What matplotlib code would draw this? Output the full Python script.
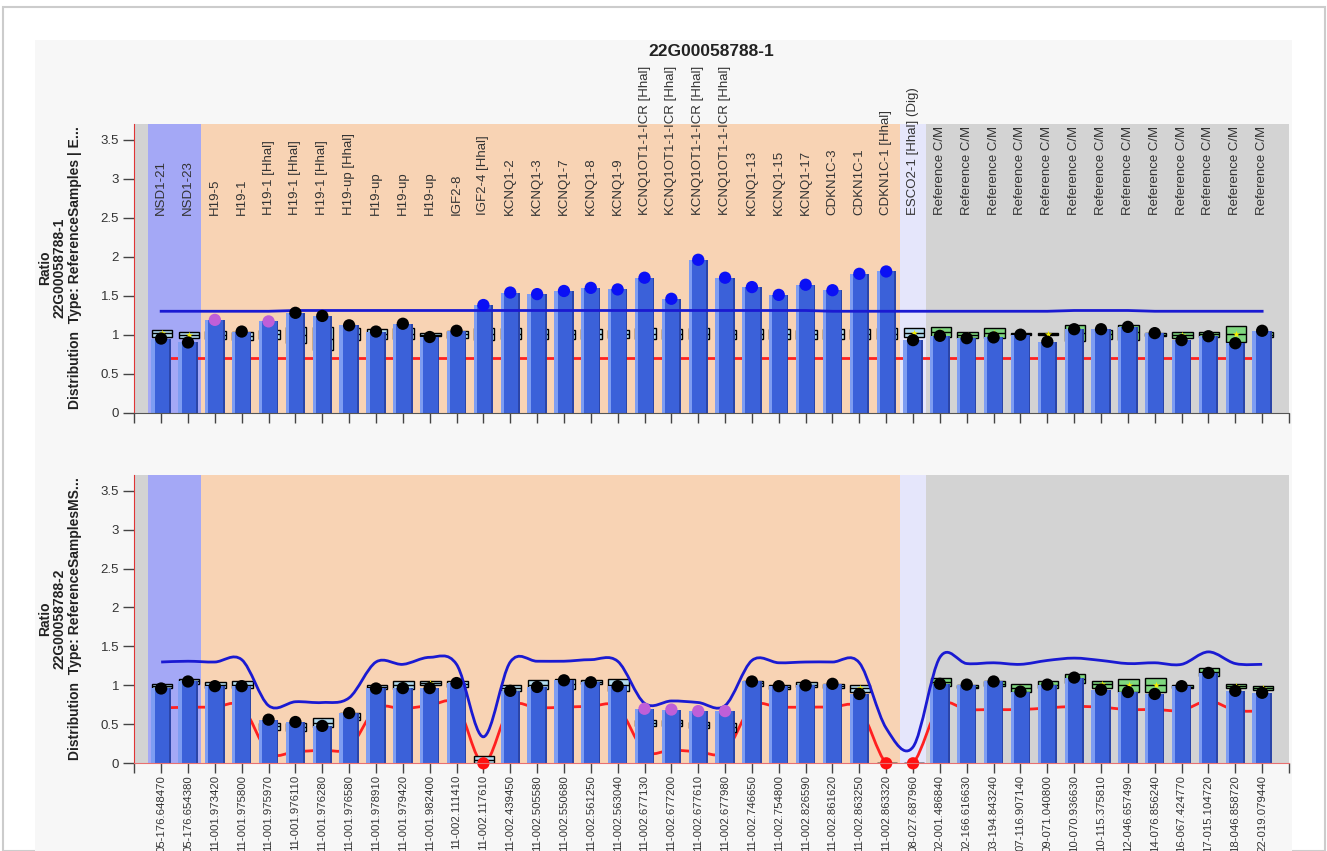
import numpy as np
import matplotlib
matplotlib.use("Agg")
import matplotlib.pyplot as plt
from matplotlib.patches import Rectangle, PathPatch
from matplotlib.path import Path

plt.rcParams["font.family"] = ["Liberation Sans", "DejaVu Sans"]

SAMPLE = "22G00058788"

probe_names = [
    "NSD1-21", "NSD1-23", "H19-5", "H19-1", "H19-1 [Hhal]", "H19-1 [Hhal]", "H19-1 [Hhal]",
    "H19-up [Hhal]", "H19-up", "H19-up", "H19-up", "IGF2-8", "IGF2-4 [Hhal]",
    "KCNQ1-2", "KCNQ1-3", "KCNQ1-7", "KCNQ1-8", "KCNQ1-9",
    "KCNQ1OT1-1-ICR [Hhal]", "KCNQ1OT1-1-ICR [Hhal]", "KCNQ1OT1-1-ICR [Hhal]", "KCNQ1OT1-1-ICR [Hhal]",
    "KCNQ1-13", "KCNQ1-15", "KCNQ1-17", "CDKN1C-3", "CDKN1C-1", "CDKN1C-1 [Hhal]",
    "ESCO2-1 [Hhal] (Dig)",
    "Reference C/M", "Reference C/M", "Reference C/M", "Reference C/M", "Reference C/M",
    "Reference C/M", "Reference C/M", "Reference C/M", "Reference C/M", "Reference C/M",
    "Reference C/M", "Reference C/M", "Reference C/M",
]

positions = [
    "05-176.648470", "05-176.654380", "11-001.973420", "11-001.975800", "11-001.975970",
    "11-001.976110", "11-001.976280", "11-001.976580", "11-001.978910", "11-001.979420",
    "11-001.982400", "11-002.111410", "11-002.117610", "11-002.439450", "11-002.505580",
    "11-002.550680", "11-002.561250", "11-002.563040", "11-002.677130", "11-002.677200",
    "11-002.677610", "11-002.677980", "11-002.746650", "11-002.754800", "11-002.826590",
    "11-002.861620", "11-002.863250", "11-002.863320", "08-027.687960", "02-001.486840",
    "02-166.616630", "03-194.843240", "07-116.907140", "09-071.040800", "10-070.936630",
    "10-115.375810", "12-046.657490", "14-076.856240", "16-067.424770", "17-015.104720",
    "18-046.858720", "22-019.079440",
]

# ratios, sample 1 (methylation-specific digest)
ratio_1 = [0.95, 0.90, 1.19, 1.04, 1.17, 1.28, 1.24, 1.12, 1.04, 1.14, 0.97, 1.05, 1.38,
           1.54, 1.52, 1.56, 1.60, 1.58, 1.73, 1.46, 1.96, 1.73, 1.61, 1.51, 1.64, 1.57,
           1.78, 1.81, 0.93, 0.985, 0.955, 0.965, 1.00, 0.91, 1.07, 1.07, 1.10, 1.02,
           0.93, 0.98, 0.89, 1.05]
box_lo_1 = [0.975, 0.96, 0.95, 0.93, 0.95, 0.89, 0.80, 0.93, 0.95, 0.95, 0.98, 0.96, 0.93,
            0.94, 0.94, 0.95, 0.95, 0.96, 0.94, 0.95, 0.94, 0.95, 0.95, 0.94, 0.95, 0.95,
            0.95, 0.94, 0.975, 0.97, 0.96, 0.96, 0.99, 0.99, 0.92, 0.95, 0.93, 0.98,
            0.96, 0.97, 0.91, 0.97]
box_hi_1 = [1.06, 1.03, 1.05, 1.04, 1.06, 1.10, 1.10, 1.08, 1.07, 1.08, 1.02, 1.05, 1.08,
            1.08, 1.07, 1.06, 1.07, 1.06, 1.08, 1.07, 1.08, 1.06, 1.07, 1.07, 1.06, 1.07,
            1.07, 1.08, 1.08, 1.10, 1.04, 1.08, 1.02, 1.02, 1.13, 1.06, 1.13, 1.02,
            1.04, 1.04, 1.11, 1.03]
upper_1 = [1.30, 1.30, 1.30, 1.30, 1.30, 1.31, 1.31, 1.31, 1.31, 1.31, 1.31, 1.31, 1.31,
           1.31, 1.31, 1.31, 1.31, 1.31, 1.31, 1.31, 1.31, 1.31, 1.31, 1.31, 1.31, 1.30,
           1.30, 1.30, 1.30, 1.30, 1.30, 1.30, 1.30, 1.30, 1.31, 1.31, 1.31, 1.30,
           1.30, 1.30, 1.30, 1.30]
lower_1 = [0.70] * 42

# ratios, sample 2 (MS-MLPA reference)
ratio_2 = [0.96, 1.05, 0.99, 0.99, 0.56, 0.53, 0.48, 0.645, 0.96, 0.965, 0.965, 1.03, 0.0,
           0.93, 0.98, 1.065, 1.04, 0.99, 0.70, 0.69, 0.67, 0.67, 1.05, 0.99, 1.00, 1.02,
           0.89, 0.0, 0.0, 1.02, 1.01, 1.05, 0.92, 1.01, 1.10, 0.945, 0.915, 0.89,
           0.99, 1.16, 0.93, 0.905]
box_lo_2 = [0.96, 1.02, 0.96, 0.96, 0.43, 0.42, 0.47, 0.55, 0.95, 0.95, 1.00, 0.98, 0.0,
            0.93, 0.95, 0.95, 1.02, 0.93, 0.48, 0.48, 0.45, 0.40, 0.99, 0.95, 0.98, 0.97,
            0.92, 0.0, 0.0, 0.99, 0.96, 0.99, 0.92, 0.96, 1.03, 0.97, 0.92, 0.92,
            0.97, 1.12, 0.96, 0.94]
box_hi_2 = [1.02, 1.085, 1.04, 1.06, 0.52, 0.52, 0.575, 0.64, 1.00, 1.06, 1.06, 1.05, 0.09,
            1.01, 1.07, 1.08, 1.07, 1.08, 0.55, 0.55, 0.53, 0.52, 1.06, 1.00, 1.04, 1.02,
            1.01, 0.0, 0.0, 1.09, 1.01, 1.05, 1.02, 1.06, 1.14, 1.06, 1.08, 1.09,
            1.00, 1.22, 1.02, 0.99]
upper_2 = [1.30, 1.31, 1.30, 1.33, 0.74, 0.79, 0.78, 0.84, 1.30, 1.27, 1.36, 1.27, 0.34,
           1.30, 1.31, 1.31, 1.33, 1.31, 0.77, 0.80, 0.78, 0.74, 1.32, 1.29, 1.30, 1.30,
           1.29, 0.45, 0.21, 1.36, 1.28, 1.29, 1.27, 1.32, 1.35, 1.32, 1.28, 1.29,
           1.27, 1.43, 1.28, 1.27]
lower_2 = [0.71, 0.72, 0.72, 0.73, 0.14, 0.15, 0.17, 0.20, 0.70, 0.70, 0.74, 0.75, 0.0,
           0.72, 0.71, 0.72, 0.73, 0.72, 0.16, 0.17, 0.15, 0.15, 0.73, 0.72, 0.72, 0.72,
           0.70, 0.0, 0.0, 0.74, 0.69, 0.69, 0.69, 0.71, 0.73, 0.72, 0.69, 0.69,
           0.68, 0.80, 0.68, 0.67]

dot_colour_1 = ["k", "k", "m", "k", "m", "k", "k", "k", "k", "k", "k", "k"] + ["b"] * 16 + ["k"] * 14
dot_colour_2 = (["k"] * 12 + ["r"] + ["k"] * 5 + ["m"] * 4 + ["k"] * 5 + ["r", "r"] + ["k"] * 13)

DOT = {"k": "black", "m": "#bf5fd8", "b": "#0a10f5", "r": "#ff1010"}

# probe group shading: (start, end, colour)
groups = [(-1, -0.5, "#d3d3d3"), (-0.5, 1.5, "#a4a8f6"), (1.5, 27.5, "#f8d3b4"),
          (27.5, 28.5, "#e5e6fb"), (28.5, 42, "#d3d3d3")]


def smooth_path(xs, ys):
    # Catmull-Rom curve through the points, drawn as cubic Bezier segments
    pts = np.column_stack([xs, ys]).astype(float)
    verts = [pts[0]]
    codes = [Path.MOVETO]
    n = len(pts)
    for i in range(n - 1):
        p0 = pts[max(i - 1, 0)]
        p1 = pts[i]
        p2 = pts[i + 1]
        p3 = pts[min(i + 2, n - 1)]
        c1 = p1 + (p2 - p0) / 6.0
        c2 = p2 - (p3 - p1) / 6.0
        verts += [c1, c2, p2]
        codes += [Path.CURVE4] * 3
    return Path(verts, codes)


def draw_panel(ax, ratio, lo, hi, upper, lower, colours, curved, bottom_spine):
    x = np.arange(len(ratio))
    for a, b, c in groups:
        ax.axvspan(a, b, color=c, lw=0, zorder=0)

    if curved:
        ax.add_patch(PathPatch(smooth_path(x, lower), fill=False, ec="#ff2020", lw=2, zorder=1.5))
    else:
        ax.plot(x, lower, color="#ff2020", lw=2, zorder=1.5)

    # reference distribution boxes, shifted a little right so the edge peeks out
    lo = np.array(lo)
    hi = np.array(hi)
    box_fc = ["#b3dcef"] * 29 + ["#7fd77f"] * 13
    bx = x + 0.03
    ax.bar(bx, hi - lo, bottom=lo, width=0.76, color=box_fc, edgecolor="black", lw=1.0, zorder=2)
    mid = (lo + hi) / 2
    ax.hlines(mid, bx - 0.38, bx + 0.38, color="black", lw=1.0, zorder=2.1)
    ax.scatter(bx, mid, marker="*", s=28, color="#f5f000", zorder=2.2, lw=0)

    # bars with a bit of shading
    ax.bar(x, ratio, width=0.72, color="#3b61d9", zorder=3)
    ax.bar(x - 0.30, ratio, width=0.12, color="#7e9df2", zorder=3.1)
    ax.bar(x + 0.33, ratio, width=0.06, color="#2b45a8", zorder=3.1)

    if curved:
        ax.add_patch(PathPatch(smooth_path(x, upper), fill=False, ec="#1a1ad2", lw=2, zorder=4))
    else:
        ax.plot(x, upper, color="#1a1ad2", lw=2, zorder=4)

    ax.scatter(x, ratio, s=78, c=[DOT[c] for c in colours], zorder=5, lw=0, clip_on=False)

    ax.set_xlim(-1, 42)
    ax.set_ylim(0, 3.7)
    ax.set_yticks([0, 0.5, 1, 1.5, 2, 2.5, 3, 3.5])
    ax.set_yticklabels(["0", "0.5", "1", "1.5", "2", "2.5", "3", "3.5"])
    ax.set_xticks(np.arange(-1, 43))
    ax.tick_params(axis="y", length=8, width=1, color="#444", labelsize=9.5, labelcolor="#333", pad=3)
    ax.tick_params(axis="x", length=7, width=1, color="#444", labelsize=8.2, labelcolor="#333", pad=1.5)
    for s in ("top", "right"):
        ax.spines[s].set_visible(False)
    ax.spines["left"].set_color("#e03535")
    ax.spines["bottom"].set_color(bottom_spine)
    ax.spines["left"].set_zorder(6)
    ax.spines["bottom"].set_zorder(6)


fig = plt.figure(figsize=(13.27, 8.51), dpi=100)
fig.patch.set_facecolor("white")
W, H = 1327.0, 851.0
fig.patches.append(Rectangle((3 / W, 0), 1322 / W, (H - 7) / H, transform=fig.transFigure,
                             fill=False, ec="#cccccc", lw=1.5, zorder=-20))
fig.patches.append(Rectangle((35 / W, 0), 1257 / W, (H - 40) / H, transform=fig.transFigure,
                             fc="#f7f7f7", ec="none", zorder=-10))

ax1 = fig.add_axes([134.3 / W, (H - 412.7) / H, 1154.7 / W, 288.7 / H])
ax2 = fig.add_axes([134.3 / W, (H - 763.3) / H, 1154.7 / W, 288.3 / H])

draw_panel(ax1, ratio_1, box_lo_1, box_hi_1, upper_1, lower_1, dot_colour_1, False, "#555555")
draw_panel(ax2, ratio_2, box_lo_2, box_hi_2, upper_2, lower_2, dot_colour_2, True, "#e87070")

ax1.set_xticklabels([])
ax2.set_xticklabels([""] + positions + [""], rotation=90, va="top")

for i, name in enumerate(probe_names):
    ax1.text(i, 2.54, name, rotation=90, ha="center", va="bottom", fontsize=9.5, color="#333")

fig.text(711 / W, 1 - 52 / H, SAMPLE + "-1", ha="center", va="center",
         fontsize=12.5, fontweight="bold", color="#222")

fig.text(60 / W, 1 - 268 / H,
         "Ratio\n" + SAMPLE + "-1\nDistribution  Type: ReferenceSamples | E...",
         rotation=90, ha="center", va="center", multialignment="center",
         fontsize=10, fontweight="bold", color="#222", linespacing=1.08)
fig.text(60 / W, 1 - 619 / H,
         "Ratio\n" + SAMPLE + "-2\nDistribution  Type: ReferenceSamplesMS...",
         rotation=90, ha="center", va="center", multialignment="center",
         fontsize=10, fontweight="bold", color="#222", linespacing=1.08)

fig.savefig("out.png", dpi=100)
